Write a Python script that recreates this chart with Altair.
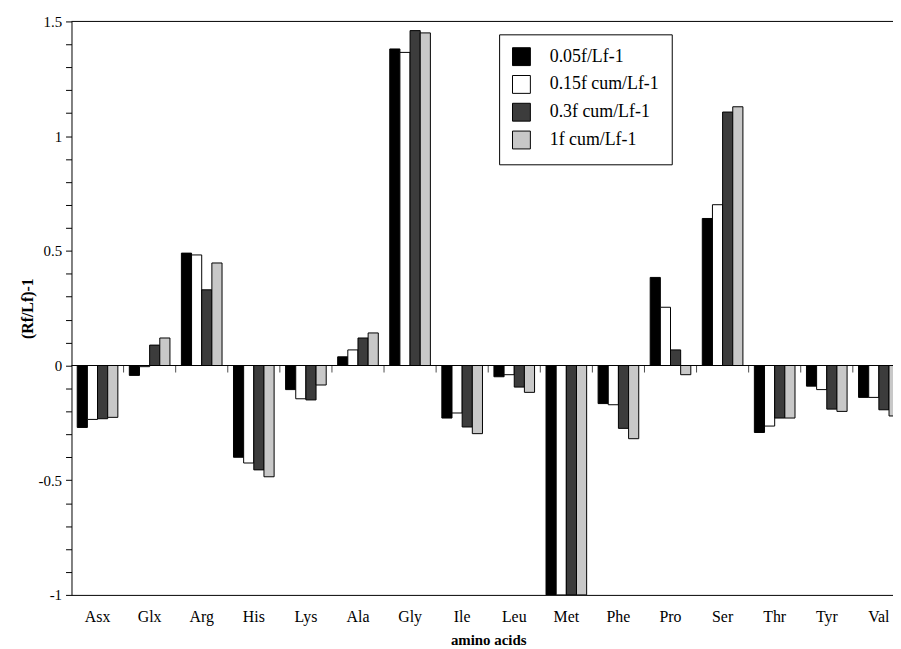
import altair as alt
import pandas as pd

aa = ["Asx", "Glx", "Arg", "His", "Lys", "Ala", "Gly", "Ile", "Leu", "Met",
      "Phe", "Pro", "Ser", "Thr", "Tyr", "Val"]
series = ["0.05f/Lf-1", "0.15f cum/Lf-1", "0.3f cum/Lf-1", "1f cum/Lf-1"]
s1 = [-0.27, -0.043, 0.49, -0.40, -0.105, 0.038, 1.38, -0.229, -0.049, -1.0,
      -0.166, 0.384, 0.641, -0.292, -0.09, -0.139]
s2 = [-0.235, -0.005, 0.482, -0.425, -0.145, 0.068, 1.365, -0.207, -0.04, -1.0,
      -0.171, 0.254, 0.701, -0.264, -0.105, -0.139]
s3 = [-0.232, 0.089, 0.33, -0.455, -0.15, 0.12, 1.46, -0.268, -0.094, -1.0,
      -0.274, 0.068, 1.105, -0.229, -0.19, -0.193]
s4 = [-0.226, 0.12, 0.447, -0.485, -0.085, 0.142, 1.45, -0.297, -0.117, -1.0,
      -0.319, -0.04, 1.128, -0.229, -0.2, -0.22]
colors = ["#000000", "#ffffff", "#3c3c3c", "#c8c8c8"]
y_ticks = [round(-1 + 0.1 * i, 1) for i in range(26)]

rows = []
for name, vals in zip(series, [s1, s2, s3, s4]):
    for a, v in zip(aa, vals):
        rows.append({"aa": a, "series": name, "value": v})
df = pd.DataFrame(rows)

FONT = "Liberation Serif"

xscale = alt.Scale(domain=aa, range=[0, 840], paddingInner=0.22, paddingOuter=0.11)
yscale = alt.Scale(domain=[-1, 1.5], nice=False, zero=False)

xaxis = alt.Axis(title="amino acids", labelAngle=0, ticks=False,
                 domainColor="black", labelFont=FONT, labelFontSize=16,
                 labelColor="black", labelPadding=14,
                 titleFont=FONT, titleFontSize=15, titleFontWeight="bold",
                 titleColor="black", titlePadding=8, grid=False)
yaxis = alt.Axis(title="(Rf/Lf)-1", values=y_ticks, tickSize=6,
                 tickColor="black", domainColor="black",
                 labelExpr="abs(datum.value*2 - round(datum.value*2)) < 0.001 ? '' + round(datum.value*10)/10 : ''",
                 labelFont=FONT, labelFontSize=15, labelColor="black",
                 labelPadding=4, titleFont=FONT, titleFontSize=16,
                 titleFontWeight="bold", titleColor="black",
                 titlePadding=3, grid=False)

bars = alt.Chart(df).mark_bar(stroke="black", strokeWidth=1, clip=True).encode(
    x=alt.X("aa:N", sort=aa, scale=xscale, axis=xaxis),
    xOffset=alt.XOffset("series:N", sort=series,
                        scale=alt.Scale(paddingInner=0, paddingOuter=0)),
    y=alt.Y("value:Q", scale=yscale, axis=yaxis),
    color=alt.Color("series:N", sort=series,
                    scale=alt.Scale(domain=series, range=colors),
                    legend=alt.Legend(orient="none", legendX=431, legendY=13,
                                      title=None, symbolType="square",
                                      symbolSize=324, symbolStrokeColor="black",
                                      symbolStrokeWidth=1, symbolOpacity=1,
                                      labelFont=FONT, labelFontSize=18,
                                      labelColor="black", labelOffset=19,
                                      rowPadding=5, padding=13,
                                      strokeColor="black", fillColor="white")),
)

zero_df = pd.DataFrame({"value": [0.0]})
top_df = pd.DataFrame({"value": [1.5]})

zero_rule = alt.Chart(zero_df).mark_rule(color="black", strokeWidth=1).encode(
    y=alt.Y("value:Q", scale=yscale, axis=yaxis)
)
top_rule = alt.Chart(top_df).mark_rule(color="black", strokeWidth=1).encode(
    y=alt.Y("value:Q", scale=yscale, axis=yaxis)
)

tick_df = pd.DataFrame({"aa": aa[1:], "value": [0.0] * (len(aa) - 1)})
sep_ticks = alt.Chart(tick_df).mark_tick(
    orient="vertical", size=7, thickness=1, yOffset=3.5, xOffset=-5.775,
    color="black"
).encode(
    x=alt.X("aa:N", sort=aa, scale=xscale, bandPosition=0, axis=xaxis),
    y=alt.Y("value:Q", scale=yscale, axis=yaxis),
)

chart = alt.layer(bars, zero_rule, top_rule, sep_ticks).properties(
    width=828,
    height=578,
    autosize=alt.AutoSizeParams(type="none"),
    padding={"left": 64, "top": 11, "right": 0, "bottom": 54},
    background="white",
).configure_view(stroke=None)

chart.save("out.html", embed_options={"renderer": "svg", "actions": False})
